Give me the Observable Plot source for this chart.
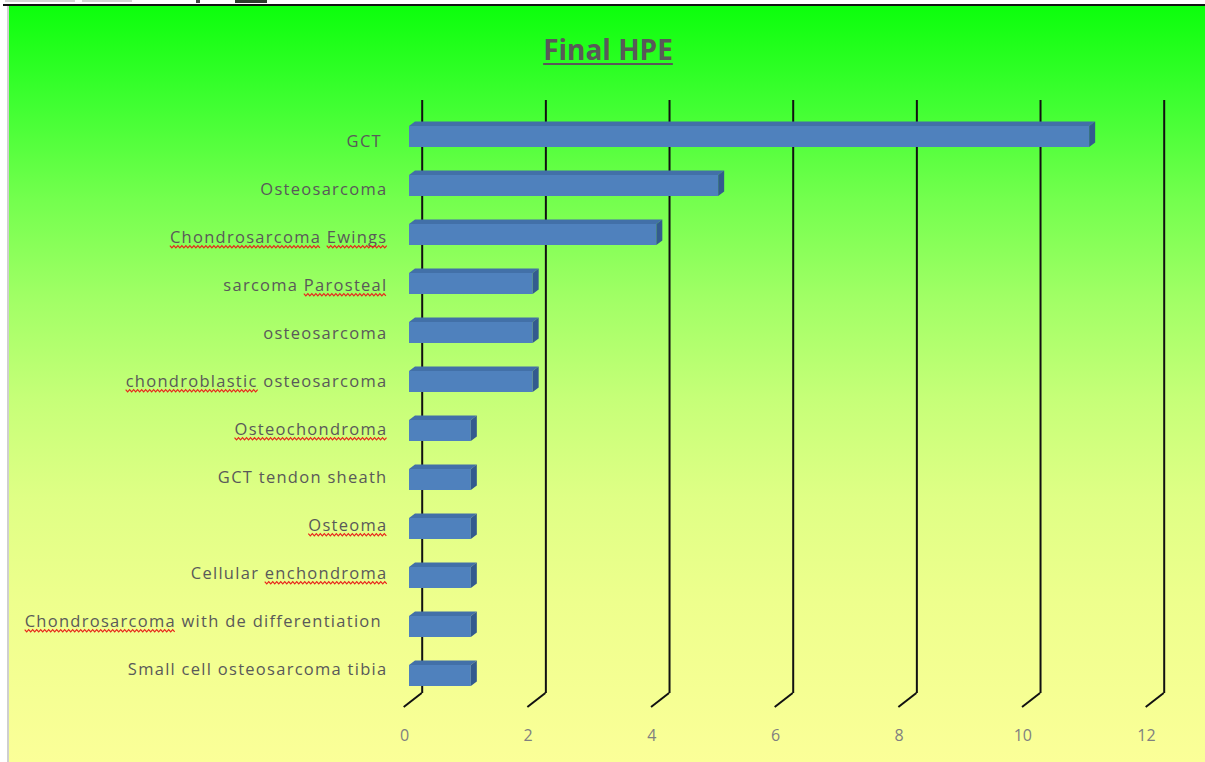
<!DOCTYPE html>
<html>
<head>
<meta charset="utf-8">
<script src="https://cdn.jsdelivr.net/npm/d3@7"></script>
<script src="https://cdn.jsdelivr.net/npm/@observablehq/plot@0.6"></script>
<style>
  html, body { margin: 0; padding: 0; background: #fff; }
  #chart { position: relative; width: 1205px; height: 762px; overflow: hidden; background: #fff; }
  #panel {
    position: absolute; left: 9px; top: 6px; right: 0; bottom: 0;
    background: linear-gradient(to bottom,
      #0cff0c 0%, #3dff30 12.4%, #74ff4e 25.7%, #a2ff66 39%,
      #c6ff78 52%, #dfff85 65%, #eeff8d 79%, #fbff98 100%);
  }
  #edgeTop { position: absolute; left: 3px; right: 0; top: 4px; height: 2px; background: #111; }
  #edgeLeft { position: absolute; left: 7px; top: 6px; bottom: 0; width: 2px; background: #cfcfcf; }
  .scrap { position: absolute; top: 0; height: 2px; }
  #title {
    position: absolute; left: 0; top: 30px; width: 1216px; text-align: center;
    font: bold 28px "Open Sans", sans-serif; color: #595959;
    text-decoration: underline; text-underline-offset: 3px; text-decoration-thickness: 2px;
  }
  .layer { position: absolute; left: 0; top: 0; }
  svg text { white-space: pre; }
</style>
</head>
<body>
<div id="chart">
  <div class="scrap" style="left:5px;width:70px;background:#d4d4d4"></div>
  <div class="scrap" style="left:82px;width:50px;background:#d4d4d4"></div>
  <div class="scrap" style="left:196px;width:4px;height:3px;background:#444"></div>
  <div class="scrap" style="left:235px;width:32px;height:3px;background:#2e3b2e"></div>
  <div id="panel"></div>
  <div id="edgeTop"></div>
  <div id="edgeLeft"></div>
  <div id="title">Final HPE</div>
</div>
<script>
// Final HPE: number of cases per histopathological diagnosis
const categories = [
  "GCT ",
  "Osteosarcoma",
  "Chondrosarcoma Ewings",
  "sarcoma Parosteal",
  "osteosarcoma",
  "chondroblastic osteosarcoma",
  "Osteochondroma",
  "GCT tendon sheath",
  "Osteoma",
  "Cellular enchondroma",
  "Chondrosarcoma with de differentiation ",
  "Small cell osteosarcoma tibia"
];
const counts = [11, 5, 4, 2, 2, 2, 1, 1, 1, 1, 1, 1];
const xTicks = [0, 2, 4, 6, 8, 10, 12];
// words the spell checker marks with a red wavy line
const flaggedWords = ["Chondrosarcoma", "Ewings", "Parosteal", "chondroblastic",
                      "Osteochondroma", "Osteoma", "enchondroma"];

const rows = categories.map((category, i) => ({category, count: counts[i]}));

const W = 1205, H = 762;
const frame = {marginLeft: 409, marginRight: 54, marginTop: 100, marginBottom: 69};
const wallShift = 12.7;             // back wall offset of the gridlines
const barDepth = {dx: 6, dy: -4.5}; // extrusion of each bar
const floorEdge = {dx: -18, dy: 14}; // floor segment under each gridline

const chart = document.getElementById("chart");

// Category labels (their own band layout on the front edge of the floor)
const labelsPlot = Plot.plot({
  width: W, height: H, ...frame,
  style: {background: "transparent", fontFamily: "Open Sans, sans-serif",
          fontSize: "16.5px", color: "#595959", letterSpacing: "1.28px", overflow: "visible"},
  y: {domain: categories, range: [117, 693], paddingInner: 0.5, paddingOuter: 0.25, label: null},
  marks: [
    Plot.axisY(categories, {tickSize: 0, tickPadding: 22, fill: "#595959", label: null})
  ]
});
labelsPlot.classList.add("layer");
chart.appendChild(labelsPlot);

// Bars, gridlines and value axis
const barsPlot = Plot.plot({
  width: W, height: H, ...frame,
  style: {background: "transparent", fontFamily: "Open Sans, sans-serif",
          fontSize: "16px", color: "#808080", overflow: "visible"},
  x: {domain: [0, 12], label: null},
  y: {domain: categories, range: [109.3, 702.1], paddingInner: 0.575, paddingOuter: 0.2875, axis: null},
  marks: [
    Plot.ruleX(xTicks, {x: d => d, dx: wallShift, stroke: "#111", strokeWidth: 2}),
    Plot.barX(rows, {x: "count", y: "category", fill: "#4f81bd"}),
    Plot.axisX(xTicks, {tickSize: 0, tickPadding: 36, dx: -5, fill: "#808080", label: null})
  ]
});
barsPlot.classList.add("layer");
chart.appendChild(barsPlot);

// 3D faces and floor edges, positioned with the plot's own scales
const sx = barsPlot.scale("x");
const sy = barsPlot.scale("y");
const svg = d3.select(barsPlot);
const floorY = H - frame.marginBottom;

svg.append("g")
  .attr("stroke", "#111").attr("stroke-width", 2).attr("fill", "none")
  .selectAll("line").data(xTicks).join("line")
  .attr("x1", t => sx.apply(t) + wallShift).attr("y1", floorY)
  .attr("x2", t => sx.apply(t) + wallShift + floorEdge.dx).attr("y2", floorY + floorEdge.dy);

const faces = svg.append("g");
rows.forEach(r => {
  const x0 = sx.apply(0), x1 = sx.apply(r.count);
  const y0 = sy.apply(r.category), y1 = y0 + sy.bandwidth;
  const {dx, dy} = barDepth;
  faces.append("polygon")
    .attr("points", [[x0, y0], [x1, y0], [x1 + dx, y0 + dy], [x0 + dx, y0 + dy]].join(" "))
    .attr("fill", "#4270a8");
  faces.append("polygon")
    .attr("points", [[x1, y0], [x1 + dx, y0 + dy], [x1 + dx, y1 + dy], [x1, y1]].join(" "))
    .attr("fill", "#335b8e");
});

// red wavy underline under flagged words
labelsPlot.querySelectorAll("text").forEach(text => {
  const s = text.textContent;
  flaggedWords.forEach(word => {
    const re = new RegExp("\\b" + word + "\\b", "g");
    let m;
    while ((m = re.exec(s)) !== null) {
      const a = text.getStartPositionOfChar(m.index);
      const b = text.getEndPositionOfChar(m.index + word.length - 1);
      const y = a.y + 4;
      const pts = [];
      let up = true;
      for (let x = a.x; x <= b.x; x += 2) { pts.push([x, up ? y - 1.1 : y + 1.1]); up = !up; }
      const path = document.createElementNS("http://www.w3.org/2000/svg", "path");
      path.setAttribute("d", "M" + pts.join("L"));
      path.setAttribute("fill", "none");
      path.setAttribute("stroke", "#e8261c");
      path.setAttribute("stroke-width", "1.2");
      const tf = text.getAttribute("transform");
      if (tf) path.setAttribute("transform", tf);
      text.parentNode.appendChild(path);
    }
  });
});
</script>
</body>
</html>
